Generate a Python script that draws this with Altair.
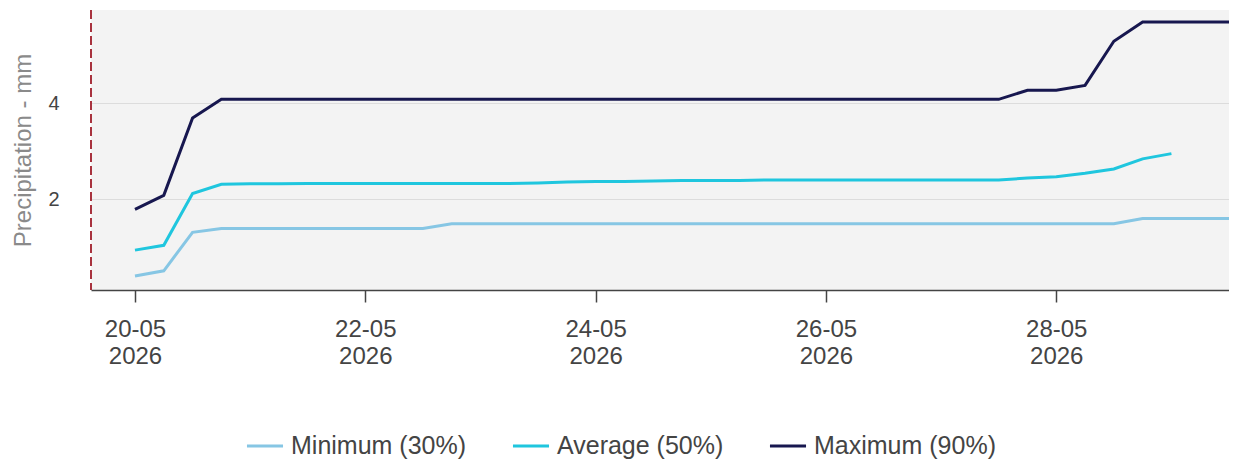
import altair as alt
import pandas as pd

# ---- data ----
START = "2026-05-20T00:00:00"          # first forecast step, 6-hour steps
NOW = "2026-05-19T14:50:00"            # red dashed "now" marker / domain start
END = "2026-05-29T12:00:00"            # domain end

series_names = ["Minimum (30%)", "Average (50%)", "Maximum (90%)"]
series_colors = ["#86c6e4", "#1fc6de", "#17174f"]

minimum = [0.40, 0.51, 1.31, 1.39, 1.39, 1.39, 1.39, 1.39, 1.39, 1.39,
           1.39, 1.49, 1.49, 1.49, 1.49, 1.49, 1.49, 1.49, 1.49, 1.49,
           1.49, 1.49, 1.49, 1.49, 1.49, 1.49, 1.49, 1.49, 1.49, 1.49,
           1.49, 1.49, 1.49, 1.49, 1.49, 1.60, 1.60, 1.60, 1.60]

average = [0.94, 1.04, 2.12, 2.31, 2.32, 2.32, 2.33, 2.33, 2.33, 2.33,
           2.33, 2.33, 2.33, 2.33, 2.34, 2.36, 2.37, 2.37, 2.38, 2.39,
           2.39, 2.39, 2.40, 2.40, 2.40, 2.40, 2.40, 2.40, 2.40, 2.40,
           2.40, 2.44, 2.47, 2.54, 2.63, 2.84, 2.95]

maximum = [1.79, 2.08, 3.69, 4.08, 4.08, 4.08, 4.08, 4.08, 4.08, 4.08,
           4.08, 4.08, 4.08, 4.08, 4.08, 4.08, 4.08, 4.08, 4.08, 4.08,
           4.08, 4.08, 4.08, 4.08, 4.08, 4.08, 4.08, 4.08, 4.08, 4.08,
           4.08, 4.27, 4.27, 4.37, 5.29, 5.69, 5.69, 5.69, 5.69]

tick_days = [20, 22, 24, 26, 28]
y_ticks = [2, 4]
y_domain = [0.11, 5.94]

# ---- build table ----
times = pd.date_range(START, periods=39, freq="6h")
rows = []
for name, vals in zip(series_names, [minimum, average, maximum]):
    for t, v in zip(times, vals):
        rows.append({"time": t.strftime("%Y-%m-%dT%H:%M:%S"), "value": v, "series": name})
df = pd.DataFrame(rows)

x_scale = alt.Scale(domain=[NOW, END])

lines = alt.Chart(df).mark_line(strokeWidth=3).encode(
    x=alt.X(
        "time:T",
        scale=x_scale,
        axis=alt.Axis(
            title=None,
            values=[alt.DateTime(year=2026, month=5, date=d) for d in tick_days],
            labelExpr="[timeFormat(datum.value, '%d-%m'), timeFormat(datum.value, '%Y')]",
            labelFontSize=24,
            labelColor="#444444",
            labelLineHeight=27,
            labelPadding=15,
            tickSize=12,
            tickColor="#444444",
            tickWidth=1.5,
            domainColor="#444444",
            domainWidth=1.5,
            grid=False,
        ),
    ),
    y=alt.Y(
        "value:Q",
        scale=alt.Scale(domain=y_domain, nice=False, zero=False),
        axis=alt.Axis(
            title="Precipitation - mm",
            titleFontSize=24,
            titleFontWeight="normal",
            titleColor="#8a8a8a",
            titlePadding=12,
            values=y_ticks,
            labelFontSize=20,
            labelColor="#444444",
            labelPadding=32,
            domain=False,
            ticks=False,
            grid=True,
            gridColor="#dcdcdc",
            gridWidth=1,
        ),
    ),
    color=alt.Color(
        "series:N",
        scale=alt.Scale(domain=series_names, range=series_colors),
        sort=series_names,
        legend=alt.Legend(
            title=None,
            orient="none",
            legendX=154,
            legendY=416,
            direction="horizontal",
            symbolType="stroke",
            symbolSize=1300,
            symbolStrokeWidth=3,
            labelFontSize=25,
            labelColor="#444444",
            labelLimit=400,
            columnPadding=39,
            labelOffset=6,
        ),
    ),
)

now_rule = alt.Chart(pd.DataFrame({"t": [NOW]})).mark_rule(
    color="#a8323e", strokeDash=[9, 4], strokeWidth=2
).encode(x=alt.X("t:T", scale=x_scale))

chart = alt.layer(lines, now_rule).properties(
    width=1138,
    height=280,
    autosize="none",
    padding={"left": 83, "top": 2, "right": 0, "bottom": 170},
).configure(font="Liberation Sans").configure_view(fill="#f3f3f3", stroke=None)

chart.save("out.html", embed_options={"renderer": "svg", "actions": False})
